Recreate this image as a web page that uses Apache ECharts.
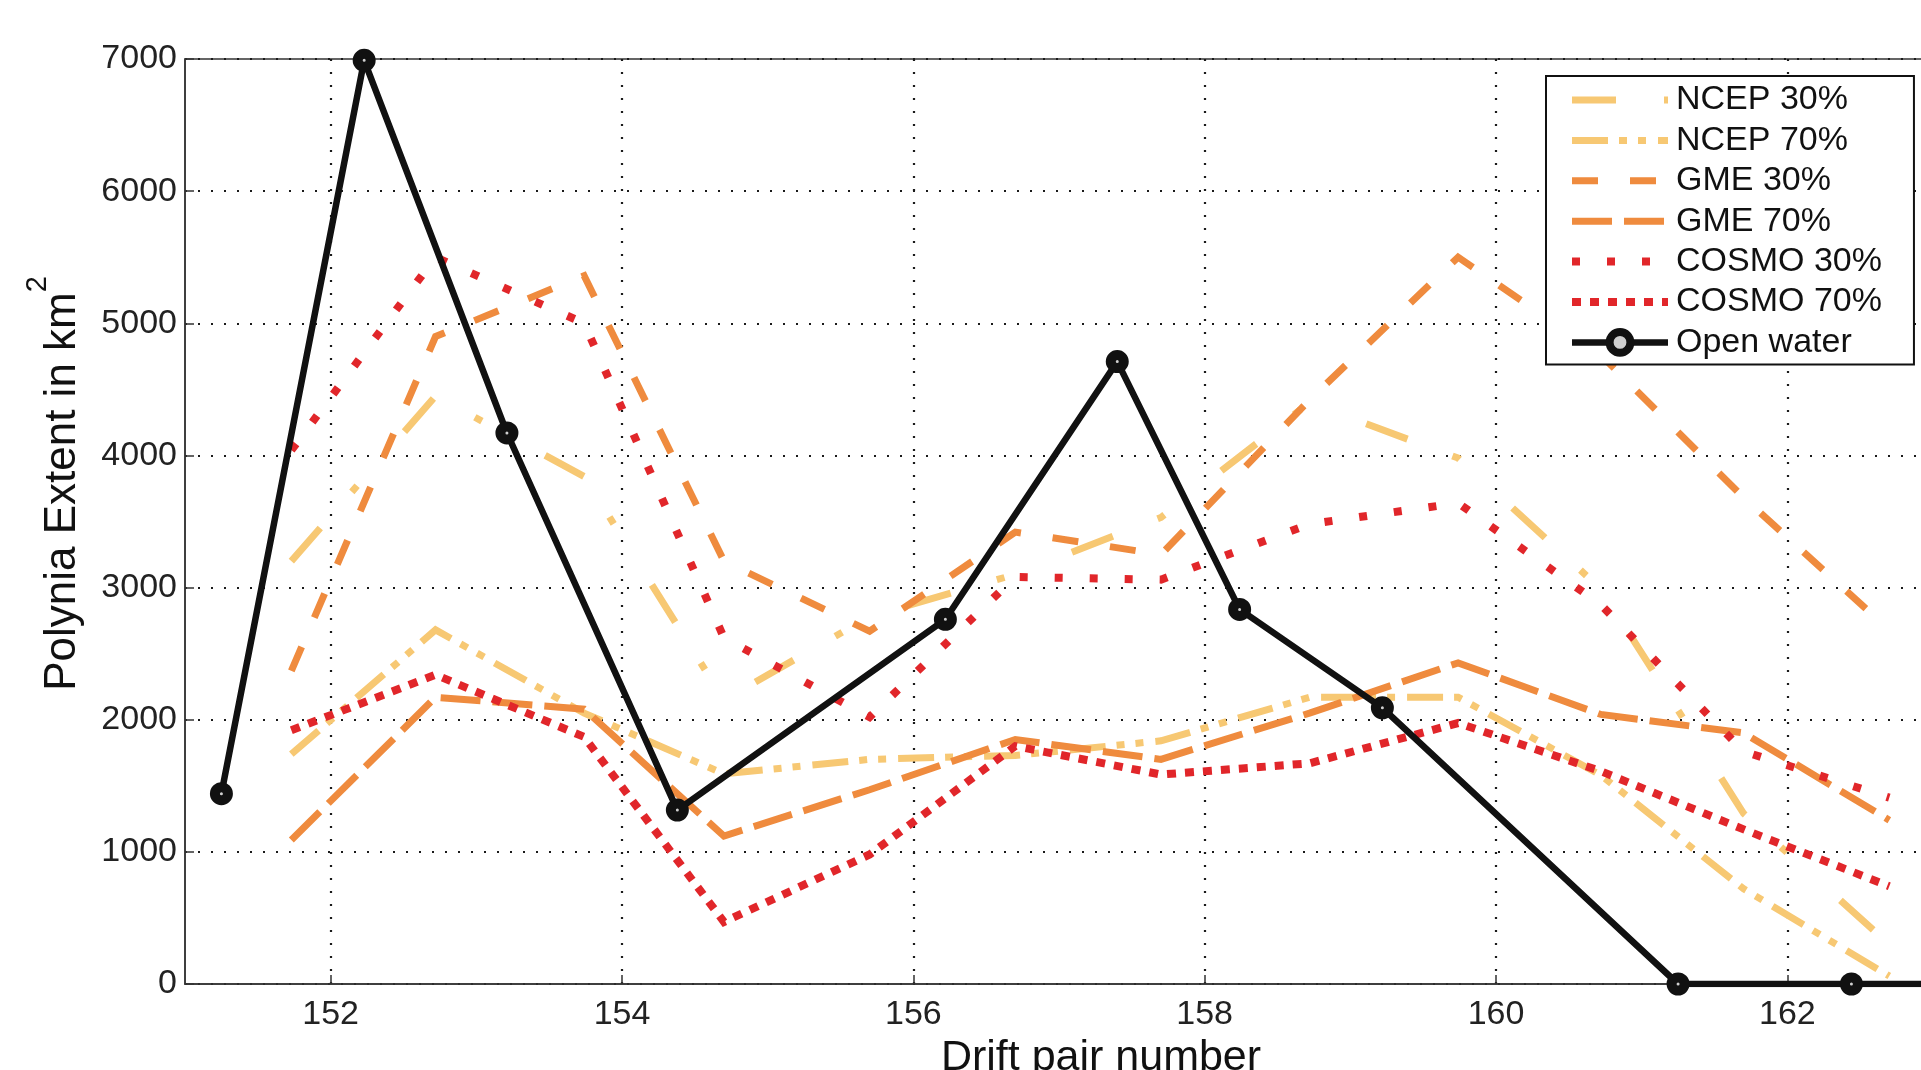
<!DOCTYPE html>
<html><head><meta charset="utf-8">
<script src="https://cdn.jsdelivr.net/npm/echarts@6/dist/echarts.min.js"></script>
<style>html,body{margin:0;padding:0;background:#fff}#c{width:1921px;height:1070px}</style>
</head><body><div id="c"></div>
<script>
// ---- data ----
const seriesNames = ['NCEP 30%', 'NCEP 70%', 'GME 30%', 'GME 70%', 'COSMO 30%', 'COSMO 70%', 'Open water'];
const modelX  = [151.73, 152.72, 153.74, 154.7, 155.7, 156.7, 157.7, 158.72, 159.74, 160.72, 161.7, 162.7];
const ncep30  = [3200, 4450, 3840, 2150, 2780, 3100, 3530, 4400, 3980, 2990, 1290, 300];
const ncep70  = [1740, 2680, 2050, 1590, 1700, 1730, 1840, 2170, 2170, 1580, 720, 60];
const gme30   = [2370, 4900, 5360, 3200, 2670, 3420, 3250, 4420, 5500, 4760, 3680, 2680];
const gme70   = [1090, 2170, 2080, 1120, 1470, 1850, 1700, 2050, 2430, 2040, 1900, 1240];
const cosmo30 = [4040, 5500, 5000, 2620, 2020, 3080, 3060, 3480, 3640, 2870, 1760, 1410];
const cosmo70 = [1920, 2340, 1870, 470, 980, 1800, 1585, 1670, 1975, 1610, 1170, 740];
const openX   = [151.25, 152.23, 153.21, 154.38, 156.22, 157.4, 158.24, 159.22, 161.25, 162.44, 163.6];
const openY   = [1440, 6990, 4170, 1316, 2760, 4710, 2835, 2090, 0, 0, 0];
const xTicks  = [152, 154, 156, 158, 160, 162];
const yMin = 0, yMax = 7000, yStep = 1000;
const xMin = 151, xMax = 163;

const FONT = 'Liberation Sans, Arial, Helvetica, sans-serif';
const C_NCEP = '#F7C873', C_GME = '#EF8B3E', C_COSMO = '#E1262A', C_OW = '#111111';

const styles = [
  { color: C_NCEP, dash: [44, 48, 8, 72], width: 7 },
  { color: C_NCEP, dash: [36, 11, 8, 11, 8, 12], width: 7 },
  { color: C_GME, dash: [26, 32], width: 7 },
  { color: C_GME, dash: [40, 12], width: 7 },
  { color: C_COSMO, dash: [8, 27], width: 8 },
  { color: C_COSMO, dash: [9, 9], width: 8 }
];
const modelValues = [ncep30, ncep70, gme30, gme70, cosmo30, cosmo70];

function pairs(xs, ys) { return xs.map((x, i) => [x, ys[i]]); }
function model(i) {
  const s = styles[i];
  return {
    name: seriesNames[i], type: 'line', data: pairs(modelX, modelValues[i]),
    symbol: 'none', showSymbol: false, clip: true,
    lineStyle: { color: s.color, width: s.width, type: s.dash, cap: 'butt', join: 'miter' },
    itemStyle: { color: s.color },
    emphasis: { disabled: true }
  };
}

const legendData = seriesNames.map((n, i) => {
  if (i < 6) {
    const s = styles[i];
    return { name: n, itemStyle: { opacity: 0 },
      lineStyle: { color: s.color, width: s.width, type: s.dash, cap: 'butt', opacity: 1 } };
  }
  return { name: n, itemStyle: { color: '#d0d0d0', borderColor: C_OW, borderWidth: 8 },
    lineStyle: { color: C_OW, width: 6.5, type: 'solid' } };
});

const chart = echarts.init(document.getElementById('c'), null, { renderer: 'canvas' });
const gridLine = { color: '#1a1a1a', width: 2.2, type: [2, 11] };
chart.setOption({
  animation: false,
  backgroundColor: '#ffffff',
  textStyle: { fontFamily: FONT },
  grid: { left: 185, top: 59, right: -12, bottom: 86, show: true, borderColor: '#333', borderWidth: 1.5,
          containLabel: false, outerBoundsMode: 'none' },
  xAxis: {
    type: 'value', min: xMin, max: xMax,
    axisLine: { show: true, onZero: false, lineStyle: { color: '#333', width: 1.5 } },
    axisTick: { show: true, inside: true, length: 9, customValues: xTicks, lineStyle: { color: '#333', width: 1.5 } },
    axisLabel: { customValues: xTicks, fontSize: 34, color: '#222', fontFamily: FONT, margin: 14 },
    splitLine: { show: true, lineStyle: gridLine },
    name: 'Drift pair number', nameLocation: 'middle', nameGap: 39,
    nameTextStyle: { fontSize: 43, color: '#111', fontFamily: FONT, padding: [0, 0, 0, 84] }
  },
  yAxis: {
    type: 'value', min: yMin, max: yMax, interval: yStep,
    axisLine: { show: true, onZero: false, lineStyle: { color: '#333', width: 1.5 } },
    axisTick: { show: true, inside: true, length: 9, lineStyle: { color: '#333', width: 1.5 } },
    axisLabel: { fontSize: 34, color: '#222', fontFamily: FONT, margin: 8, formatter: v => String(v) },
    splitLine: { show: true, lineStyle: gridLine },
    name: '{m|Polynia Extent in km}{s|2}', nameLocation: 'middle', nameGap: 100,
    nameTextStyle: {
      padding: [0, 0, 0, 76],
      rich: {
        m: { fontSize: 44, color: '#111', fontFamily: FONT, lineHeight: 62, verticalAlign: 'bottom' },
        s: { fontSize: 29, color: '#111', fontFamily: FONT, lineHeight: 29, verticalAlign: 'top' }
      }
    }
  },
  legend: {
    show: true, orient: 'vertical', left: 1546, top: 76,
    backgroundColor: '#ffffff', borderColor: '#111', borderWidth: 2,
    padding: [7, 32, 5, 22], itemGap: 6.4, itemWidth: 96, itemHeight: 26,
    textStyle: { fontSize: 34, color: '#111', fontFamily: FONT, lineHeight: 34, padding: [0, 0, 0, 3] },
    selectedMode: false,
    data: legendData
  },
  series: [
    model(0), model(1), model(2), model(3), model(4), model(5),
    {
      name: seriesNames[6], type: 'line', data: pairs(openX, openY), clip: true,
      symbol: 'circle', symbolSize: 13, showSymbol: true,
      lineStyle: { color: C_OW, width: 6.5 },
      itemStyle: { color: '#d0d0d0', borderColor: C_OW, borderWidth: 10 },
      emphasis: { disabled: true }, z: 5
    }
  ]
});
</script>
</body></html>
